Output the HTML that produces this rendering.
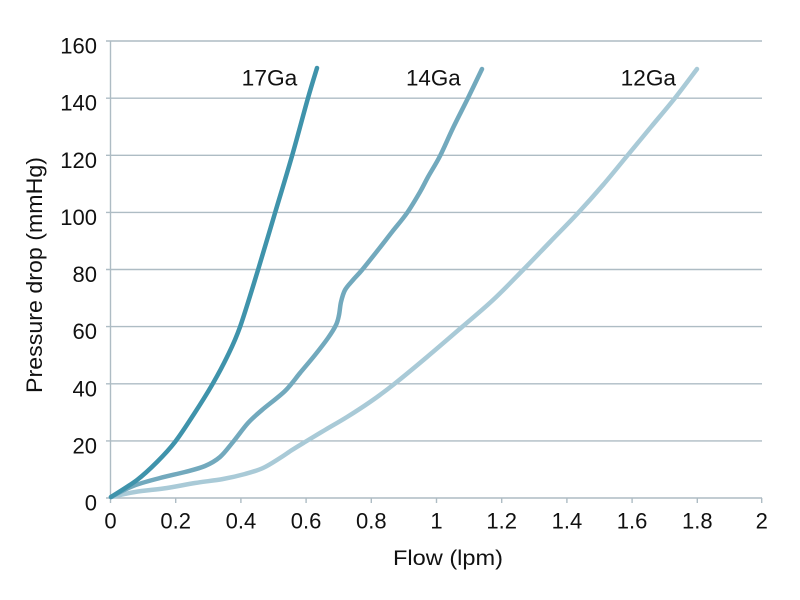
<!DOCTYPE html>
<html><head><meta charset="utf-8"><style>
html,body{margin:0;padding:0;background:#fff;}
svg{display:block;}
text{font-family:"Liberation Sans",Arial,sans-serif;fill:#111;}
</style></head><body>
<svg id="c" width="800" height="600" viewBox="0 0 800 600" xmlns="http://www.w3.org/2000/svg">
<rect width="800" height="600" fill="#fff"/>
<g stroke="#aebcc4" stroke-width="1.4" fill="none">
<line x1="106" y1="41" x2="762" y2="41"/>
<line x1="106" y1="98.2" x2="762" y2="98.2"/>
<line x1="106" y1="155.3" x2="762" y2="155.3"/>
<line x1="106" y1="212.4" x2="762" y2="212.4"/>
<line x1="106" y1="269.5" x2="762" y2="269.5"/>
<line x1="106" y1="326.6" x2="762" y2="326.6"/>
<line x1="106" y1="383.8" x2="762" y2="383.8"/>
<line x1="106" y1="440.9" x2="762" y2="440.9"/>
<line x1="106" y1="498" x2="762" y2="498"/>
<line x1="110.5" y1="41" x2="110.5" y2="503"/>
<line x1="175.7" y1="498" x2="175.7" y2="503"/>
<line x1="240.9" y1="498" x2="240.9" y2="503"/>
<line x1="306.1" y1="498" x2="306.1" y2="503"/>
<line x1="371.3" y1="498" x2="371.3" y2="503"/>
<line x1="436.5" y1="498" x2="436.5" y2="503"/>
<line x1="501.7" y1="498" x2="501.7" y2="503"/>
<line x1="566.9" y1="498" x2="566.9" y2="503"/>
<line x1="632.1" y1="498" x2="632.1" y2="503"/>
<line x1="697.3" y1="498" x2="697.3" y2="503"/>
<line x1="761.7" y1="498" x2="761.7" y2="503"/>
</g>
<g font-size="22" text-anchor="end">
<text x="97" y="53.5">160</text>
<text x="97" y="110.7">140</text>
<text x="97" y="167.8">120</text>
<text x="97" y="224.9">100</text>
<text x="97" y="282">80</text>
<text x="97" y="339.1">60</text>
<text x="97" y="396.3">40</text>
<text x="97" y="453.4">20</text>
<text x="97" y="510.5">0</text>
</g>
<g font-size="22" text-anchor="middle">
<text x="110.5" y="528.5">0</text>
<text x="175.7" y="528.5">0.2</text>
<text x="240.9" y="528.5">0.4</text>
<text x="306.1" y="528.5">0.6</text>
<text x="371.3" y="528.5">0.8</text>
<text x="436.5" y="528.5">1</text>
<text x="501.7" y="528.5">1.2</text>
<text x="566.9" y="528.5">1.4</text>
<text x="632.1" y="528.5">1.6</text>
<text x="697.3" y="528.5">1.8</text>
<text x="761.7" y="528.5">2</text>
</g>
<text x="393" y="565" font-size="21" textLength="110" lengthAdjust="spacingAndGlyphs">Flow (lpm)</text>
<text transform="translate(42,393) rotate(-90)" x="0" y="0" font-size="22" textLength="236" lengthAdjust="spacingAndGlyphs">Pressure drop (mmHg)</text>
<g font-size="22">
<text x="241.7" y="85.7" textLength="55.6" lengthAdjust="spacingAndGlyphs">17Ga</text>
<text x="406" y="85.7" textLength="54.7" lengthAdjust="spacingAndGlyphs">14Ga</text>
<text x="620.7" y="85.7" textLength="55.3" lengthAdjust="spacingAndGlyphs">12Ga</text>
</g>
<g id="series" fill="none" stroke-width="4.5" stroke-linejoin="round" stroke-linecap="round">
<polyline stroke="#a9cad7" points="111,497 135,492 167,488 195,483 223,479 245,474 263,468 280,458 292,450 305,442 325,430 347,417 370,402 393,385 427,357 462,327 493,300 523,270 550,242 578,213 603,185 627,156 651,127 675,98 697,69"/>
<polyline stroke="#72a9bd" points="111,497 133,486 160,478 185,472 205,466 220,457 233,442 248,423 262,410 285,391 300,373 315,355 328,338 336,325 339,315 341,302 345,290 353,280 362,270 378,250 392,232 407,213 420,192 428,177 440,156 453,128 468,98 482,69"/>
<polyline stroke="#3f93ab" points="111,497 137,480 157,462 175,442 194,414 212,385 227,357 240,327 258,270 275,213 292,156 308,98 317,68"/>
</g>
</svg>
<script>
(function(){
  var ns="http://www.w3.org/2000/svg";
  var pls=document.querySelectorAll("#series polyline");
  for(var k=0;k<pls.length;k++){
    var pl=pls[k];
    var pts=pl.getAttribute("points").trim().split(/\s+/).map(function(s){var a=s.split(",");return [parseFloat(a[0]),parseFloat(a[1])];});
    var d="M"+pts[0][0]+","+pts[0][1];
    for(var i=0;i<pts.length-1;i++){
      var p0=pts[i>0?i-1:i],p1=pts[i],p2=pts[i+1],p3=pts[i+2<pts.length?i+2:i+1];
      var c1x=p1[0]+(p2[0]-p0[0])/6,c1y=p1[1]+(p2[1]-p0[1])/6;
      var c2x=p2[0]-(p3[0]-p1[0])/6,c2y=p2[1]-(p3[1]-p1[1])/6;
      d+=" C"+c1x.toFixed(2)+","+c1y.toFixed(2)+" "+c2x.toFixed(2)+","+c2y.toFixed(2)+" "+p2[0]+","+p2[1];
    }
    var path=document.createElementNS(ns,"path");
    path.setAttribute("d",d);
    path.setAttribute("stroke",pl.getAttribute("stroke"));
    pl.parentNode.replaceChild(path,pl);
  }
})();
</script>
</body></html>
